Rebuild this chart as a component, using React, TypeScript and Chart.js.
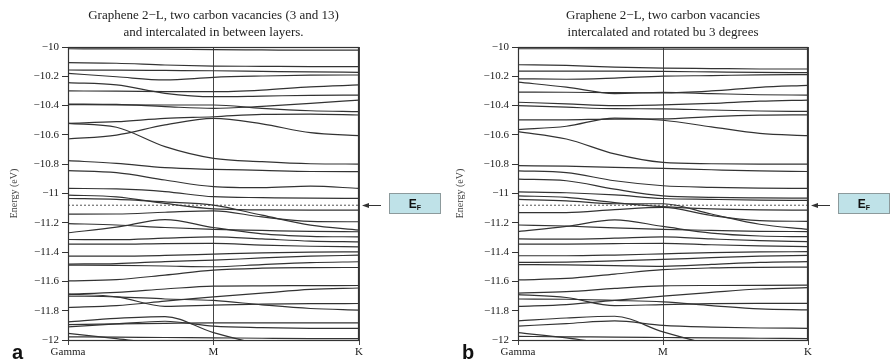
import React, { useEffect, useRef } from "react";
import { Chart, registerables } from "chart.js";

Chart.register(...registerables);

const SERIF = "'Liberation Serif', 'Times New Roman', serif";
const SANS = "'Liberation Sans', Arial, sans-serif";

// k-path positions (Gamma -> M -> K)
const kPath = [0, 1 / 6, 1 / 3, 1 / 2, 2 / 3, 5 / 6, 1];
const kTickValues = [0, 0.5, 1];
const kTickLabels = ["Gamma", "M", "K"];
const energyMin = -12;
const energyMax = -10;
const energyStep = 0.2;
const fermiEnergy = -11.08;

const titleA = ["Graphene 2\u2212L, two carbon vacancies (3 and 13)", "and intercalated in between layers."];
const titleB = ["Graphene 2\u2212L, two carbon vacancies", "intercalated and rotated bu 3 degrees"];

// band energies (eV) at kPath positions, panel a
const bandsA = [
  [-10.012, -10.013, -10.015, -10.018, -10.02, -10.022, -10.022],
  [-10.107, -10.111, -10.123, -10.130, -10.132, -10.134, -10.134],
  [-10.157, -10.158, -10.160, -10.162, -10.166, -10.170, -10.173],
  [-10.180, -10.203, -10.225, -10.207, -10.198, -10.192, -10.191],
  [-10.243, -10.259, -10.316, -10.339, -10.335, -10.330, -10.328],
  [-10.300, -10.301, -10.304, -10.305, -10.294, -10.272, -10.259],
  [-10.389, -10.392, -10.407, -10.419, -10.405, -10.385, -10.362],
  [-10.393, -10.395, -10.396, -10.396, -10.419, -10.435, -10.441],
  [-10.521, -10.510, -10.487, -10.476, -10.460, -10.458, -10.464],
  [-10.521, -10.548, -10.680, -10.760, -10.783, -10.797, -10.799],
  [-10.628, -10.601, -10.532, -10.487, -10.525, -10.585, -10.605],
  [-10.776, -10.794, -10.824, -10.835, -10.842, -10.850, -10.851],
  [-10.844, -10.858, -10.908, -10.953, -10.960, -10.950, -10.965],
  [-10.965, -10.969, -10.987, -11.022, -11.028, -11.032, -11.033],
  [-11.011, -11.023, -11.068, -11.105, -11.112, -11.114, -11.114],
  [-11.034, -11.040, -11.057, -11.079, -11.148, -11.216, -11.250],
  [-11.141, -11.140, -11.128, -11.118, -11.160, -11.190, -11.193],
  [-11.205, -11.215, -11.232, -11.245, -11.252, -11.259, -11.261],
  [-11.268, -11.230, -11.178, -11.232, -11.275, -11.292, -11.296],
  [-11.314, -11.315, -11.305, -11.296, -11.310, -11.325, -11.330],
  [-11.346, -11.346, -11.342, -11.341, -11.352, -11.360, -11.364],
  [-11.428, -11.428, -11.423, -11.414, -11.405, -11.400, -11.398],
  [-11.482, -11.478, -11.465, -11.455, -11.440, -11.428, -11.421],
  [-11.489, -11.490, -11.495, -11.500, -11.485, -11.472, -11.466],
  [-11.596, -11.588, -11.557, -11.523, -11.510, -11.506, -11.505],
  [-11.687, -11.675, -11.652, -11.632, -11.630, -11.629, -11.628],
  [-11.687, -11.705, -11.770, -11.762, -11.755, -11.752, -11.751],
  [-11.778, -11.765, -11.735, -11.705, -11.680, -11.655, -11.645],
  [-11.700, -11.705, -11.720, -11.730, -11.760, -11.785, -11.796],
  [-11.876, -11.852, -11.840, -11.950, -12.030, -12.080, -12.100],
  [-11.910, -11.890, -11.872, -11.905, -11.915, -11.920, -11.921],
  [-11.895, -11.890, -11.886, -11.883, -11.883, -11.883, -11.883],
  [-11.955, -11.990, -12.030, -12.060, -12.080, -12.100, -12.100],
  [-11.978, -11.980, -11.983, -11.985, -11.988, -11.990, -11.990],
];

// band energies (eV) at kPath positions, panel b
const bandsB = [
  [-10.012, -10.012, -10.013, -10.014, -10.015, -10.015, -10.015],
  [-10.121, -10.126, -10.137, -10.144, -10.147, -10.150, -10.150],
  [-10.164, -10.164, -10.165, -10.167, -10.170, -10.173, -10.175],
  [-10.217, -10.220, -10.212, -10.199, -10.195, -10.190, -10.188],
  [-10.240, -10.274, -10.318, -10.310, -10.318, -10.326, -10.328],
  [-10.308, -10.309, -10.312, -10.313, -10.300, -10.275, -10.262],
  [-10.377, -10.388, -10.400, -10.395, -10.385, -10.370, -10.362],
  [-10.400, -10.411, -10.421, -10.422, -10.430, -10.437, -10.440],
  [-10.498, -10.497, -10.492, -10.491, -10.475, -10.465, -10.463],
  [-10.564, -10.541, -10.485, -10.500, -10.545, -10.590, -10.605],
  [-10.578, -10.628, -10.730, -10.788, -10.797, -10.800, -10.800],
  [-10.810, -10.813, -10.822, -10.829, -10.838, -10.846, -10.850],
  [-10.845, -10.857, -10.913, -10.947, -10.958, -10.963, -10.965],
  [-10.902, -10.913, -10.970, -11.016, -11.026, -11.030, -11.032],
  [-10.989, -10.995, -11.010, -11.034, -11.040, -11.045, -11.047],
  [-11.016, -11.027, -11.062, -11.090, -11.105, -11.112, -11.114],
  [-11.040, -11.050, -11.070, -11.070, -11.140, -11.210, -11.245],
  [-11.130, -11.130, -11.110, -11.095, -11.150, -11.185, -11.190],
  [-11.215, -11.222, -11.235, -11.245, -11.252, -11.258, -11.260],
  [-11.260, -11.225, -11.180, -11.225, -11.270, -11.290, -11.295],
  [-11.310, -11.312, -11.305, -11.296, -11.310, -11.322, -11.328],
  [-11.345, -11.345, -11.342, -11.340, -11.350, -11.358, -11.362],
  [-11.425, -11.425, -11.420, -11.412, -11.404, -11.399, -11.397],
  [-11.470, -11.468, -11.460, -11.450, -11.438, -11.428, -11.422],
  [-11.485, -11.487, -11.492, -11.497, -11.484, -11.470, -11.465],
  [-11.590, -11.580, -11.550, -11.520, -11.508, -11.504, -11.503],
  [-11.680, -11.670, -11.648, -11.630, -11.628, -11.627, -11.626],
  [-11.690, -11.710, -11.765, -11.758, -11.752, -11.750, -11.750],
  [-11.770, -11.758, -11.730, -11.700, -11.675, -11.652, -11.643],
  [-11.720, -11.722, -11.730, -11.740, -11.765, -11.788, -11.795],
  [-11.870, -11.850, -11.838, -11.945, -12.030, -12.080, -12.100],
  [-11.905, -11.888, -11.870, -11.900, -11.912, -11.918, -11.920],
  [-11.950, -11.985, -12.030, -12.060, -12.080, -12.100, -12.100],
  [-11.975, -11.978, -11.980, -11.983, -11.986, -11.988, -11.990],
];

function fmtEnergy(v: number): string {
  const s = Number(v.toFixed(1)).toString();
  return s.replace("-", "\u2212");
}

type PanelProps = {
  left: number;
  width: number;
  axisWidth: number;
  padRight: number;
  title: string[];
  bands: number[][];
  tag: string;
  tagX: number;
};

function Panel({ left, width, axisWidth, padRight, title, bands, tag, tagX }: PanelProps) {
  const ref = useRef<HTMLCanvasElement | null>(null);

  useEffect(() => {
    if (!ref.current) return;
    const datasets: any[] = bands.map((b) => ({
      data: b.map((e, i) => ({ x: kPath[i], y: e })),
      borderColor: "#333",
      borderWidth: 1.2,
      pointRadius: 0,
      cubicInterpolationMode: "monotone",
      fill: false,
    }));
    datasets.push({
      data: [
        { x: 0, y: fermiEnergy },
        { x: 1, y: fermiEnergy },
      ],
      borderColor: "#555",
      borderWidth: 1,
      borderDash: [2, 2],
      pointRadius: 0,
      fill: false,
    });

    const decor = {
      id: "decor",
      afterDraw(chart: any) {
        const { ctx, chartArea } = chart;
        const { left: l, right: r, top: t, bottom: b } = chartArea;
        const yS = chart.scales.y;
        ctx.save();
        // frame
        ctx.strokeStyle = "#333";
        ctx.lineWidth = 1.2;
        ctx.strokeRect(l + 0.5, t + 0.5, r - l - 1, b - t);
        // title
        ctx.fillStyle = "#222";
        ctx.font = `13px ${SERIF}`;
        ctx.textAlign = "center";
        ctx.textBaseline = "middle";
        const cx = (l + r) / 2;
        ctx.fillText(title[0], cx, 16);
        ctx.fillText(title[1], cx, 33);
        // panel tag
        ctx.font = `bold 20px ${SANS}`;
        ctx.textAlign = "left";
        ctx.textBaseline = "alphabetic";
        ctx.fillStyle = "#111";
        ctx.fillText(tag, tagX, 359);
        // fermi arrow
        const ey = Math.round(yS.getPixelForValue(fermiEnergy)) + 0.5;
        ctx.strokeStyle = "#333";
        ctx.lineWidth = 1;
        ctx.beginPath();
        ctx.moveTo(r + 22, ey);
        ctx.lineTo(r + 8, ey);
        ctx.stroke();
        ctx.fillStyle = "#333";
        ctx.beginPath();
        ctx.moveTo(r + 3, ey);
        ctx.lineTo(r + 10, ey - 2.5);
        ctx.lineTo(r + 10, ey + 2.5);
        ctx.closePath();
        ctx.fill();
        // E_F box
        const bx = r + 30;
        const by = ey - 12.5;
        ctx.fillStyle = "#bfe2e8";
        ctx.fillRect(bx, by, 52, 21);
        ctx.strokeStyle = "#8c9a9c";
        ctx.strokeRect(bx + 0.5, by + 0.5, 51, 20);
        ctx.fillStyle = "#111";
        ctx.font = `bold 12px ${SANS}`;
        ctx.textBaseline = "alphabetic";
        ctx.textAlign = "left";
        const ew = ctx.measureText("E").width;
        ctx.font = `bold 7px ${SANS}`;
        const fw = ctx.measureText("F").width;
        const sx = bx + 26 - (ew + fw) / 2;
        ctx.font = `bold 12px ${SANS}`;
        ctx.fillText("E", sx, by + 15);
        ctx.font = `bold 7px ${SANS}`;
        ctx.fillText("F", sx + ew, by + 17);
        ctx.restore();
      },
    };

    const chart = new Chart(ref.current, {
      type: "line",
      data: { datasets },
      options: {
        responsive: false,
        animation: false,
        events: [],
        layout: { padding: { left: 0, right: padRight, top: 47, bottom: 0 } },
        plugins: {
          legend: { display: false },
          tooltip: { enabled: false },
          title: { display: false },
        },
        scales: {
          x: {
            type: "linear",
            min: 0,
            max: 1,
            afterBuildTicks: (s: any) => {
              s.ticks = kTickValues.map((v) => ({ value: v }));
            },
            afterFit: (s: any) => {
              s.height = 22;
            },
            ticks: {
              autoSkip: false,
              maxRotation: 0,
              padding: 1,
              color: "#222",
              font: { family: SERIF, size: 11 },
              callback: (v: any) => {
                const i = kTickValues.indexOf(Number(v));
                return i >= 0 ? kTickLabels[i] : "";
              },
            },
            grid: { color: "#444", lineWidth: 1, tickLength: 5, drawOnChartArea: true },
            border: { display: true, color: "#333" },
          },
          y: {
            type: "linear",
            min: energyMin,
            max: energyMax,
            afterFit: (s: any) => {
              s.width = axisWidth;
            },
            ticks: {
              stepSize: energyStep,
              padding: 3,
              color: "#222",
              font: { family: SERIF, size: 11 },
              callback: (v: any) => fmtEnergy(Number(v)),
            },
            grid: { drawOnChartArea: false, tickLength: 6, color: "#333" },
            border: { display: true, color: "#333" },
            title: {
              display: true,
              text: "Energy (eV)",
              color: "#444",
              font: { family: SERIF, size: 10 },
              padding: { top: 8, bottom: 0 },
            },
          },
        },
      } as any,
      plugins: [decor],
    });
    return () => chart.destroy();
  }, []);

  return (
    <canvas
      ref={ref}
      width={width}
      height={362}
      style={{ position: "absolute", left, top: 0, width, height: 362 }}
    />
  );
}

export default function App() {
  return (
    <div style={{ position: "fixed", left: 0, top: 0, width: 893, height: 362, background: "#fff", overflow: "hidden" }}>
      <Panel left={0} width={446} axisWidth={68} padRight={87} title={titleA} bands={bandsA} tag="a" tagX={12} />
      <Panel left={446} width={447} axisWidth={72} padRight={85} title={titleB} bands={bandsB} tag="b" tagX={16} />
    </div>
  );
}
